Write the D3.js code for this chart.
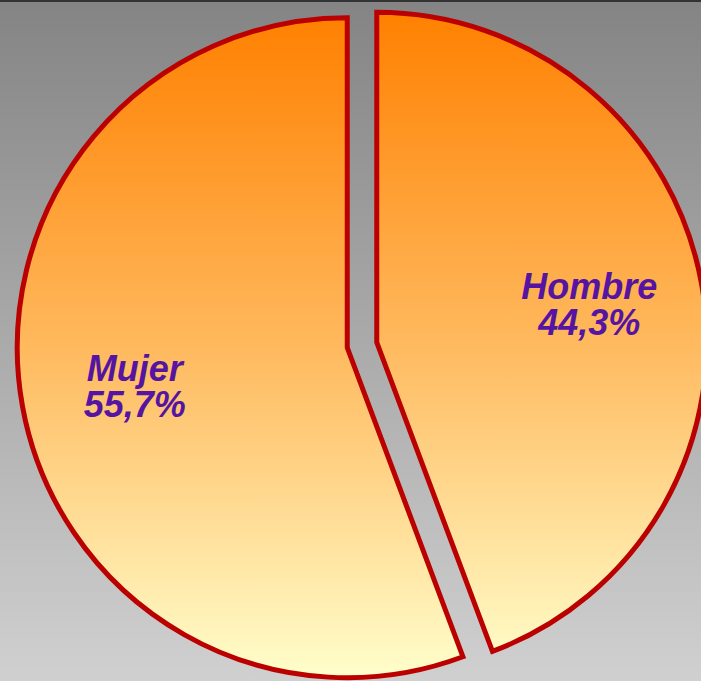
<!DOCTYPE html>
<html>
<head>
<meta charset="utf-8">
<script src="https://cdn.jsdelivr.net/npm/d3@7"></script>
<style>
  html, body { margin: 0; padding: 0; overflow: hidden; }
  #chart { width: 701px; height: 681px; }
</style>
</head>
<body>
<div id="chart"></div>
<script>
// Data
var categories = ["Hombre", "Mujer"];
var values = [44.3, 55.7];
var valueLabels = ["44,3%", "55,7%"];

var width = 701, height = 681;
var cx = 362, cy = 345;
var radius = 330;
var explode = 15;

var svg = d3.select("#chart").append("svg")
  .attr("width", width)
  .attr("height", height);

var defs = svg.append("defs");

// Background gradient
var bg = defs.append("linearGradient")
  .attr("id", "bgGrad")
  .attr("x1", 0).attr("y1", 0).attr("x2", 0).attr("y2", 1);
bg.append("stop").attr("offset", "0%").attr("stop-color", "#848484");
bg.append("stop").attr("offset", "100%").attr("stop-color", "#d0d0d0");

// Slice gradient (orange to pale yellow), in the slice group's own coords
var sg = defs.append("linearGradient")
  .attr("id", "sliceGrad")
  .attr("gradientUnits", "userSpaceOnUse")
  .attr("x1", 0).attr("y1", 12 - cy).attr("x2", 0).attr("y2", 678 - cy);
sg.append("stop").attr("offset", "0%").attr("stop-color", "#ff8000");
sg.append("stop").attr("offset", "50%").attr("stop-color", "#ffb95e");
sg.append("stop").attr("offset", "100%").attr("stop-color", "#ffffcc");

svg.append("rect")
  .attr("width", width)
  .attr("height", height)
  .attr("fill", "url(#bgGrad)");

svg.append("rect")
  .attr("width", width)
  .attr("height", 2)
  .attr("fill", "#333333");

var data = categories.map(function (c, i) {
  return { name: c, value: values[i], label: valueLabels[i] };
});

var pie = d3.pie()
  .sort(null)
  .value(function (d) { return d.value; });

var arc = d3.arc()
  .innerRadius(0)
  .outerRadius(radius);

var labelArc = d3.arc()
  .innerRadius(216)
  .outerRadius(216);

// push each slice out along its middle angle
function offset(d) {
  var mid = (d.startAngle + d.endAngle) / 2;
  return [Math.sin(mid) * explode, -Math.cos(mid) * explode];
}

var slices = svg.append("g")
  .selectAll("g")
  .data(pie(data))
  .enter()
  .append("g")
  .attr("transform", function (d) {
    var o = offset(d);
    return "translate(" + (cx + o[0]) + "," + (cy + o[1]) + ")";
  });

slices.append("path")
  .attr("d", arc)
  .attr("fill", "url(#sliceGrad)")
  .style("stroke", "#bb0000")
  .style("stroke-width", 5)
  .style("stroke-linejoin", "miter");

var labels = slices.append("text")
  .attr("transform", function (d) {
    return "translate(" + labelArc.centroid(d) + ")";
  })
  .attr("text-anchor", "middle")
  .style("font-family", "'Liberation Sans', Arial, sans-serif")
  .style("font-weight", "bold")
  .style("font-style", "italic")
  .style("font-size", "36px")
  .style("fill", "#5514a2");

labels.append("tspan")
  .attr("x", 0)
  .attr("y", -5)
  .text(function (d) { return d.data.name; });

labels.append("tspan")
  .attr("x", 0)
  .attr("y", 31)
  .text(function (d) { return d.data.label; });
</script>
</body>
</html>
